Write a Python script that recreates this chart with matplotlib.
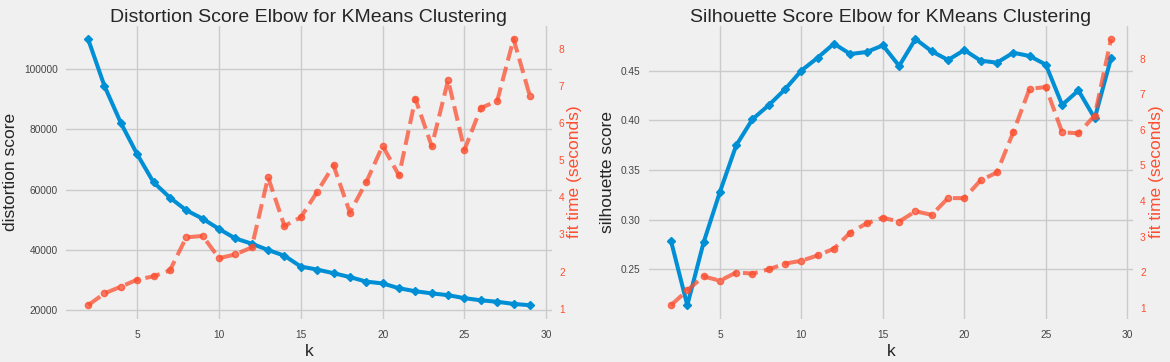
import numpy as np
import matplotlib
matplotlib.use("Agg")
import matplotlib.pyplot as plt
from matplotlib import font_manager

# -----------------------------
# data
# -----------------------------
k_values = list(range(2, 30))

distortion = [110000, 94400, 82150, 71700, 62400, 57300, 53100, 50300, 46900,
              43750, 42000, 39900, 38000, 34400, 33400, 32200, 30900, 29400,
              28800, 27200, 26200, 25500, 24900, 23900, 23200, 22700, 22000,
              21550]
distortion_time = [1.09, 1.41, 1.59, 1.78, 1.87, 2.03, 2.92, 2.96, 2.36, 2.46,
                   2.65, 4.54, 3.23, 3.46, 4.15, 4.86, 3.59, 4.41, 5.39, 4.59,
                   6.66, 5.38, 7.16, 5.28, 6.41, 6.60, 8.27, 6.73]

silhouette = [0.2785, 0.2138, 0.2770, 0.3278, 0.3747, 0.4011, 0.4152, 0.4312,
              0.4500, 0.4630, 0.4771, 0.4667, 0.4687, 0.4754, 0.4547, 0.4818,
              0.4694, 0.4607, 0.4707, 0.4600, 0.4580, 0.4680, 0.4647, 0.4560,
              0.4155, 0.4300, 0.4020, 0.4624]
silhouette_time = [1.07, 1.49, 1.88, 1.76, 1.99, 1.96, 2.08, 2.24, 2.32, 2.47,
                   2.66, 3.11, 3.37, 3.53, 3.42, 3.71, 3.61, 4.08, 4.08, 4.58,
                   4.80, 5.93, 7.15, 7.20, 5.93, 5.90, 6.40, 8.55]

titles = ["Distortion Score Elbow for KMeans Clustering",
          "Silhouette Score Elbow for KMeans Clustering"]
ylabels = ["distortion score", "silhouette score"]

BG = "#f0f0f0"
BLUE = "#008fd5"
CORAL = "#fc4f30"
GRID = "#cbcbcb"

installed = {f.name for f in font_manager.fontManager.ttflist}
narrow = "Liberation Sans Narrow" in installed
tick_font = "Liberation Sans Narrow" if narrow else "Liberation Sans"
tick_size = 8.5 if narrow else 7.3
plt.rcParams["font.family"] = ["Liberation Sans", "DejaVu Sans"]


def draw(ax, scores, times, title, ylabel, yticks, ytickfmt):
    ax.set_facecolor(BG)
    ax.plot(k_values, scores, color=BLUE, lw=2.9, marker="D", ms=4.5, zorder=3)
    ax.set_title(title, fontsize=14.0, color="#262626", pad=3)
    ax.set_xlabel("k", fontsize=12.5, color="#262626", labelpad=3)
    ax.set_ylabel(ylabel, fontsize=12.5, color="#262626", labelpad=4)
    ax.set_xticks([5, 10, 15, 20, 25, 30])
    ax.set_yticks(yticks)
    ax.set_yticklabels([ytickfmt(v) for v in yticks])
    ax.grid(True, color=GRID, lw=1)
    ax.tick_params(length=0, labelsize=tick_size, labelcolor="#444444", pad=6)
    ax.tick_params(axis="x", pad=8)
    for lab in ax.get_xticklabels() + ax.get_yticklabels():
        lab.set_family(tick_font)
    for s in ax.spines.values():
        s.set_visible(False)

    ax2 = ax.twinx()
    ax2.plot(k_values, times, color=CORAL, lw=2.9, ls="--", marker="o", ms=4.5,
             alpha=0.75, zorder=2)
    ax2.set_ylabel("fit time (seconds)", fontsize=12.5, color=CORAL, labelpad=2)
    ax2.set_yticks(range(1, 9))
    ax2.grid(False)
    ax2.tick_params(length=0, labelsize=tick_size, labelcolor=CORAL, pad=5)
    for lab in ax2.get_yticklabels():
        lab.set_family(tick_font)
    for s in ax2.spines.values():
        s.set_visible(False)
    return ax2


fig = plt.figure(figsize=(11.7, 3.62), dpi=100, facecolor=BG)
ax_l = fig.add_axes([0.0564, 0.12, 0.4154, 0.809])
ax_r = fig.add_axes([0.5547, 0.12, 0.4137, 0.809])

draw(ax_l, distortion, distortion_time, titles[0], ylabels[0],
     [20000, 40000, 60000, 80000, 100000], lambda v: f"{v:d}")
draw(ax_r, silhouette, silhouette_time, titles[1], ylabels[1],
     [0.25, 0.30, 0.35, 0.40, 0.45], lambda v: f"{v:.2f}")

fig.savefig("out.png", dpi=100, facecolor=BG)
